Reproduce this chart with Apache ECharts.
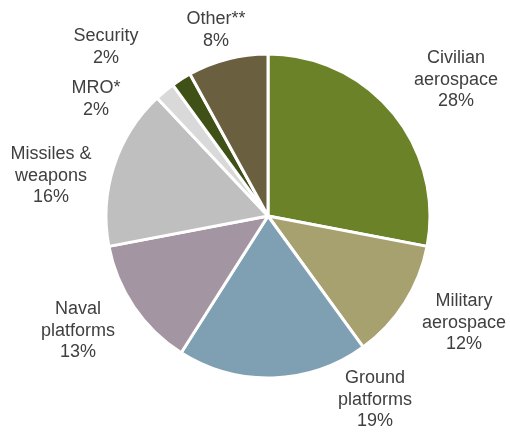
<!DOCTYPE html>
<html>
<head>
<meta charset="utf-8">
<script src="https://cdn.jsdelivr.net/npm/echarts@6/dist/echarts.min.js"></script>
<style>
  html, body { margin: 0; padding: 0; background: #fff; }
  #chart { width: 510px; height: 432px; }
</style>
</head>
<body>
<div id="chart"></div>
<script>
// Segment names (line breaks as shown in the labels) and their shares in percent
const segments = ['Civilian\naerospace', 'Military\naerospace', 'Ground\nplatforms', 'Naval\nplatforms',
                  'Missiles &\nweapons', 'MRO*', 'Security', 'Other**'];
const shares = [28, 12, 19, 13, 16, 2, 2, 8];
const colors = ['#6b8228', '#a7a06f', '#7f9fb3', '#a495a2', '#bfbfbf', '#d9d9d9', '#3f5117', '#6a5f3f'];

// Centre points for each label block (layout only)
const labelAnchors = [[456, 80], [464, 323], [375, 400], [78, 331], [51, 176], [96, 99], [106, 47], [216, 30]];

const chart = echarts.init(document.getElementById('chart'), null, { renderer: 'canvas' });

chart.setOption({
  animation: false,
  series: [{
    type: 'pie',
    center: [268, 216],
    radius: [0, 162],
    startAngle: 90,
    clockwise: true,
    avoidLabelOverlap: false,
    data: segments.map((name, i) => ({
      name: name,
      value: shares[i],
      itemStyle: { color: colors[i] }
    })),
    itemStyle: { borderColor: '#ffffff', borderWidth: 3 },
    emphasis: { disabled: true },
    label: {
      show: true,
      position: 'outside',
      formatter: p => p.name + '\n' + p.value + '%',
      fontFamily: 'Liberation Sans, Arial, sans-serif',
      fontSize: 18,
      lineHeight: 21.5,
      color: '#404040',
      align: 'center'
    },
    labelLine: { show: false },
    labelLayout: params => {
      const a = labelAnchors[params.dataIndex];
      return { x: a[0], y: a[1], align: 'center', verticalAlign: 'middle' };
    }
  }]
});
</script>
</body>
</html>
